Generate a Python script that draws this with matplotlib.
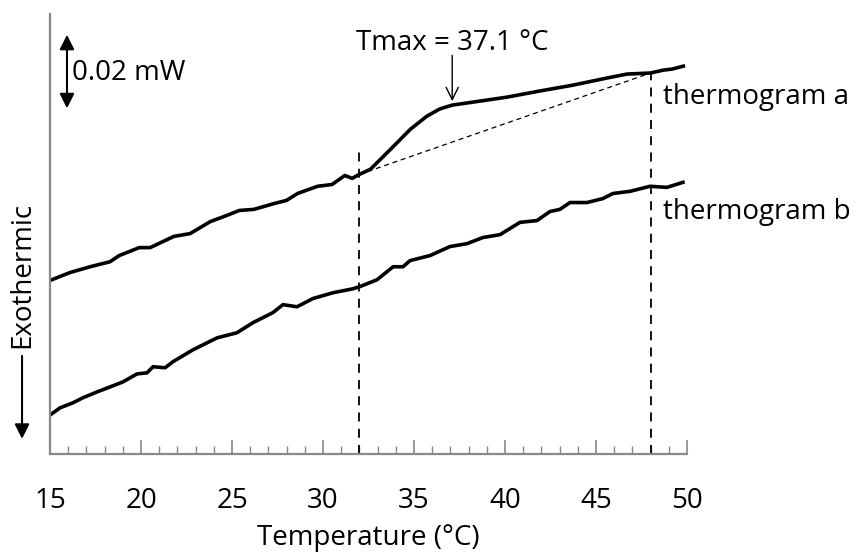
import matplotlib
matplotlib.use("Agg")
import matplotlib.pyplot as plt
from matplotlib.ticker import MultipleLocator

plt.rcParams['font.family'] = ['Open Sans', 'DejaVu Sans']

# heat flow traces, microwatts vs temperature (deg C)
temp_a = [15.0, 16.1, 17.2, 18.3, 18.8, 19.9, 20.5, 21.8, 22.7, 23.8, 24.7, 25.4,
          26.2, 27.3, 28.0, 28.6, 29.7, 30.5, 31.2, 31.6, 32.0, 32.6, 33.7, 34.8,
          35.7, 36.4, 37.1, 38.2, 40.1, 41.9, 43.7, 45.6, 46.7, 48.0, 48.7, 49.2, 49.8]
flow_a = [48.1, 50.3, 51.9, 53.3, 55.0, 57.2, 57.2, 60.3, 61.1, 64.4, 66.1, 67.5,
          67.8, 69.4, 70.3, 72.2, 74.2, 74.7, 77.2, 76.4, 77.5, 78.9, 84.4, 90.0,
          93.6, 95.6, 96.7, 97.5, 98.9, 100.6, 102.2, 104.2, 105.3, 105.6, 106.4, 106.7, 107.5]

temp_b = [15.0, 15.55, 16.26, 16.81, 17.58, 18.30, 19.01, 19.78, 20.33, 20.66, 21.32,
          21.76, 22.86, 24.18, 25.27, 26.15, 27.25, 27.80, 28.57, 29.45, 30.55, 31.65,
          32.03, 32.97, 33.85, 34.40, 34.78, 35.88, 36.98, 37.91, 38.79, 39.73, 40.82,
          41.76, 42.47, 43.02, 43.57, 44.51, 45.38, 45.93, 46.87, 47.97, 48.90, 49.78]
flow_b = [10.8, 12.8, 14.2, 15.6, 17.2, 18.6, 20.0, 22.2, 22.5, 24.2, 23.9,
          25.6, 28.9, 32.2, 33.6, 36.4, 39.2, 41.4, 40.8, 43.1, 44.7, 45.8,
          46.4, 48.3, 51.9, 51.9, 53.6, 55.0, 57.5, 58.3, 60.0, 60.8, 64.2,
          64.7, 67.2, 67.8, 69.7, 69.7, 70.8, 72.2, 72.8, 74.2, 73.9, 75.3]

onset = 32.0
endset = 48.0
t_max = 37.1
base_x = [onset, endset]
base_y = [77.5, 105.6]

fig = plt.figure(figsize=(8.63, 5.53), dpi=100)
ax = fig.add_axes([0.058, 0.179, 0.738, 0.796])

ax.plot(temp_a, flow_a, color='black', lw=2.6, solid_joinstyle='round')
ax.plot(temp_b, flow_b, color='black', lw=2.6, solid_joinstyle='round')
ax.plot(base_x, base_y, color='black', lw=0.9, ls=(0, (4, 3)))
ax.plot([onset, onset], [0, 83.6], color='black', lw=1.3, ls=(0, (5, 4)))
ax.plot([endset, endset], [0, 108], color='black', lw=1.3, ls=(0, (5, 4)))

ax.set_xlim(15, 50)
ax.set_ylim(0, 122)
ax.xaxis.set_major_locator(MultipleLocator(5))
ax.xaxis.set_minor_locator(MultipleLocator(1))
ax.tick_params(axis='x', which='major', direction='in', length=10, width=1.2,
               color='#888888', labelsize=20, pad=24)
ax.tick_params(axis='x', which='minor', direction='in', length=6, width=1.0,
               color='#888888')
ax.set_yticks([])
for s in ['top', 'right']:
    ax.spines[s].set_visible(False)
for s in ['left', 'bottom']:
    ax.spines[s].set_color('#888888')
    ax.spines[s].set_linewidth(1.6)
ax.set_xlabel('Temperature (°C)', fontsize=20, labelpad=6)

# Tmax marker
ax.annotate('', xy=(t_max, 97.8), xytext=(t_max, 110.5),
            arrowprops=dict(arrowstyle='->', color='black', lw=1.0,
                            mutation_scale=22, shrinkA=0, shrinkB=0))
ax.text(t_max, 113.8, f'Tmax = {t_max} °C', fontsize=20, ha='center', va='center')

# scale bar
ax.annotate('', xy=(15.93, 116.2), xytext=(15.93, 95.8), annotation_clip=False,
            arrowprops=dict(arrowstyle='<|-|>', color='black', lw=1.5,
                            mutation_scale=22, shrinkA=0, shrinkB=0))
ax.text(16.2, 105.5, '0.02 mW', fontsize=20, ha='left', va='center')

ax.text(48.68, 98.9, 'thermogram a', fontsize=20, ha='left', va='center', clip_on=False)
ax.text(48.68, 67.2, 'thermogram b', fontsize=20, ha='left', va='center', clip_on=False)

# exothermic direction
ax.annotate('', xy=(13.46, 4.2), xytext=(13.46, 27.2), annotation_clip=False,
            arrowprops=dict(arrowstyle='-|>', color='black', lw=1.5,
                            mutation_scale=22, shrinkA=0, shrinkB=0))
ax.text(13.46, 49.7, 'Exothermic', fontsize=20, rotation=90, ha='center', va='center',
        clip_on=False)

fig.savefig('out.png', dpi=100)
